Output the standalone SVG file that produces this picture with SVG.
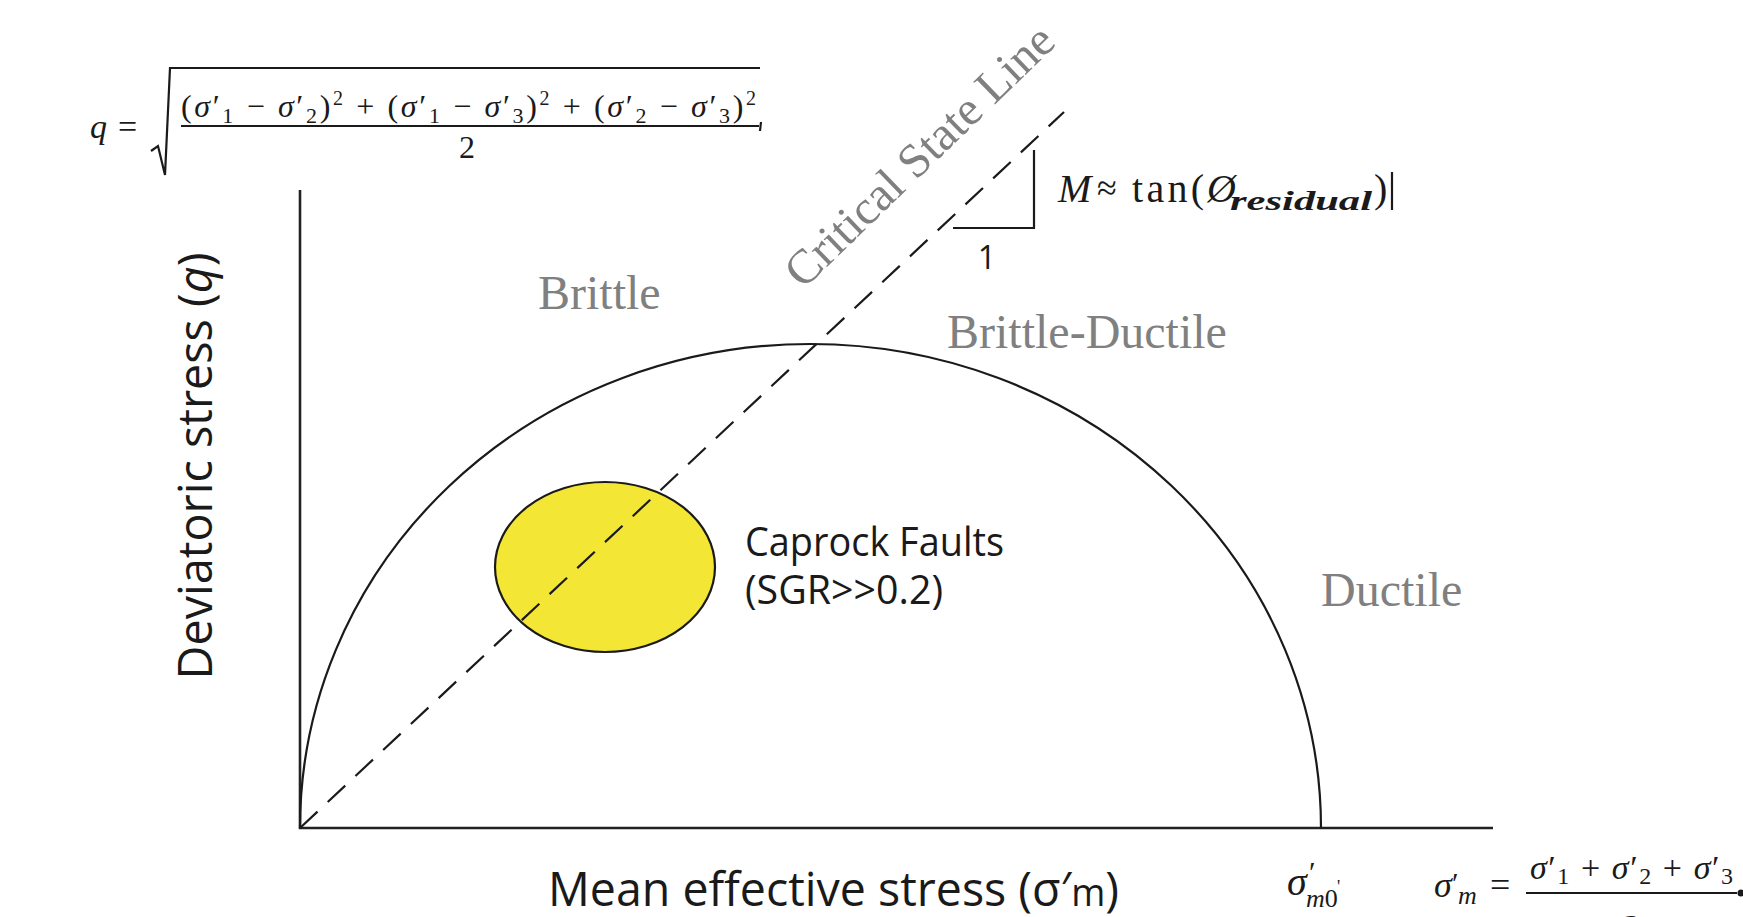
<svg xmlns="http://www.w3.org/2000/svg" width="1743" height="917" viewBox="0 0 1743 917">
<style>
.ln{fill:none;stroke:#1a1a1a;stroke-width:2.2}
.ax{fill:none;stroke:#222;stroke-width:2.6}
.m{font-family:"Liberation Serif","Times New Roman",serif;fill:#1a1a1a}
.i{font-style:italic}
.g{font-family:"Liberation Serif","Times New Roman",serif;fill:#808080;font-size:48px}
.s{font-family:"Open Sans","Noto Sans","Liberation Sans",sans-serif;fill:#1a1a1a}
</style>
<rect width="1743" height="917" fill="#fff"/>

<g id="q-formula">
<text class="m i" x="90" y="138" font-size="34">q</text>
<text class="m" x="118" y="138" font-size="34">=</text>
<path class="ln" d="M151 151 L158 146 L165 175 L170 68 L760 68"/>
<text class="m" x="181" y="117" font-size="32" textLength="575" lengthAdjust="spacing">(<tspan class="i">σ</tspan>′<tspan dy="6" font-size="22">1</tspan><tspan dy="-6"> − </tspan><tspan class="i">σ</tspan>′<tspan dy="6" font-size="22">2</tspan><tspan dy="-6">)</tspan><tspan dy="-12" font-size="20">2</tspan><tspan dy="12"> + (</tspan><tspan class="i">σ</tspan>′<tspan dy="6" font-size="22">1</tspan><tspan dy="-6"> − </tspan><tspan class="i">σ</tspan>′<tspan dy="6" font-size="22">3</tspan><tspan dy="-6">)</tspan><tspan dy="-12" font-size="20">2</tspan><tspan dy="12"> + (</tspan><tspan class="i">σ</tspan>′<tspan dy="6" font-size="22">2</tspan><tspan dy="-6"> − </tspan><tspan class="i">σ</tspan>′<tspan dy="6" font-size="22">3</tspan><tspan dy="-6">)</tspan><tspan dy="-12" font-size="20">2</tspan></text>
<line class="ln" x1="181" y1="126" x2="759" y2="126"/>
<line class="ln" x1="761" y1="122" x2="760" y2="131" stroke-width="1.5"/>
<text class="m" x="467" y="158" font-size="32" text-anchor="middle">2</text>
</g>

<g id="axes">
<path class="ax" d="M300 190 L300 828 L1493 828"/>
</g>

<g id="envelope">
<path class="ln" d="M300 828 A510.5 484 0 0 1 1321 828"/>
</g>

<g id="caprock-faults">
<ellipse cx="605" cy="567" rx="110" ry="85" fill="#f4e634" stroke="#1a1a1a" stroke-width="2.2"/>
<text class="s" x="745" y="556" font-size="40" textLength="259" lengthAdjust="spacingAndGlyphs">Caprock Faults</text>
<text class="s" x="745" y="604" font-size="40" textLength="198" lengthAdjust="spacingAndGlyphs">(SGR&gt;&gt;0.2)</text>
</g>

<g id="connectors">
<line class="ln" x1="300" y1="828" x2="1064" y2="112" stroke-dasharray="24 14" stroke-width="2.4"/>
<path class="ln" d="M1034 150 L1034 228 L953 228"/>
</g>

<g id="csl-label">
<text class="g" transform="translate(803,290) rotate(-44)" x="0" y="0" textLength="354" lengthAdjust="spacingAndGlyphs">Critical State Line</text>
</g>

<g id="slope">
<text class="s" x="987" y="269" font-size="32" text-anchor="middle">1</text>
<text class="m i" x="1058" y="202" font-size="40">M</text>
<text class="m" x="1097" y="200" font-size="36">≈</text>
<text class="m" x="1132" y="202" font-size="40" textLength="72" lengthAdjust="spacing">tan(</text>
<text class="m i" x="1207" y="202" font-size="40">Ø</text>
<text class="m i" x="1230" y="210" font-size="27" font-weight="bold" textLength="142" lengthAdjust="spacingAndGlyphs">residual</text>
<text class="m" x="1374" y="202" font-size="40">)</text>
<line class="ln" x1="1392" y1="172" x2="1392" y2="210" stroke-width="2"/>
</g>

<g id="regions">
<text class="g" x="538" y="309">Brittle</text>
<text class="g" x="947" y="348">Brittle-Ductile</text>
<text class="g" x="1321" y="606">Ductile</text>
</g>

<g id="y-label">
<text class="s" transform="translate(212,466) rotate(-90)" x="0" y="0" font-size="48" text-anchor="middle" textLength="427" lengthAdjust="spacingAndGlyphs">Deviatoric stress (<tspan font-style="italic">q</tspan>)</text>
</g>

<g id="x-label">
<text class="s" x="548" y="906" font-size="48" textLength="571" lengthAdjust="spacingAndGlyphs">Mean effective stress (σ′<tspan font-size="38">m</tspan>)</text>
</g>

<g id="sigma-m0">
<text class="m i" x="1287" y="895" font-size="40">σ</text>
<text class="m" x="1309" y="882" font-size="30">′</text>
<text class="m" x="1306" y="907" font-size="26"><tspan class="i">m</tspan>0</text>
<text class="m" x="1337" y="893" font-size="18">'</text>
</g>

<g id="sigma-m-formula">
<text class="m i" x="1434" y="897" font-size="36">σ</text>
<text class="m" x="1452" y="893" font-size="30">′</text>
<text class="m i" x="1458" y="904" font-size="26">m</text>
<text class="m" x="1490" y="897" font-size="36">=</text>
<text class="m" x="1530" y="879" font-size="34" textLength="203" lengthAdjust="spacing"><tspan class="i">σ</tspan>′<tspan font-size="24" dy="5">1</tspan><tspan dy="-5"> + </tspan><tspan class="i">σ</tspan>′<tspan font-size="24" dy="5">2</tspan><tspan dy="-5"> + </tspan><tspan class="i">σ</tspan>′<tspan font-size="24" dy="5">3</tspan></text>
<line class="ln" x1="1526" y1="893" x2="1737" y2="893"/>
<circle cx="1741" cy="893" r="3.5" fill="#1a1a1a"/>
<text class="m" x="1632" y="938" font-size="34" text-anchor="middle">3</text>
</g>
</svg>
